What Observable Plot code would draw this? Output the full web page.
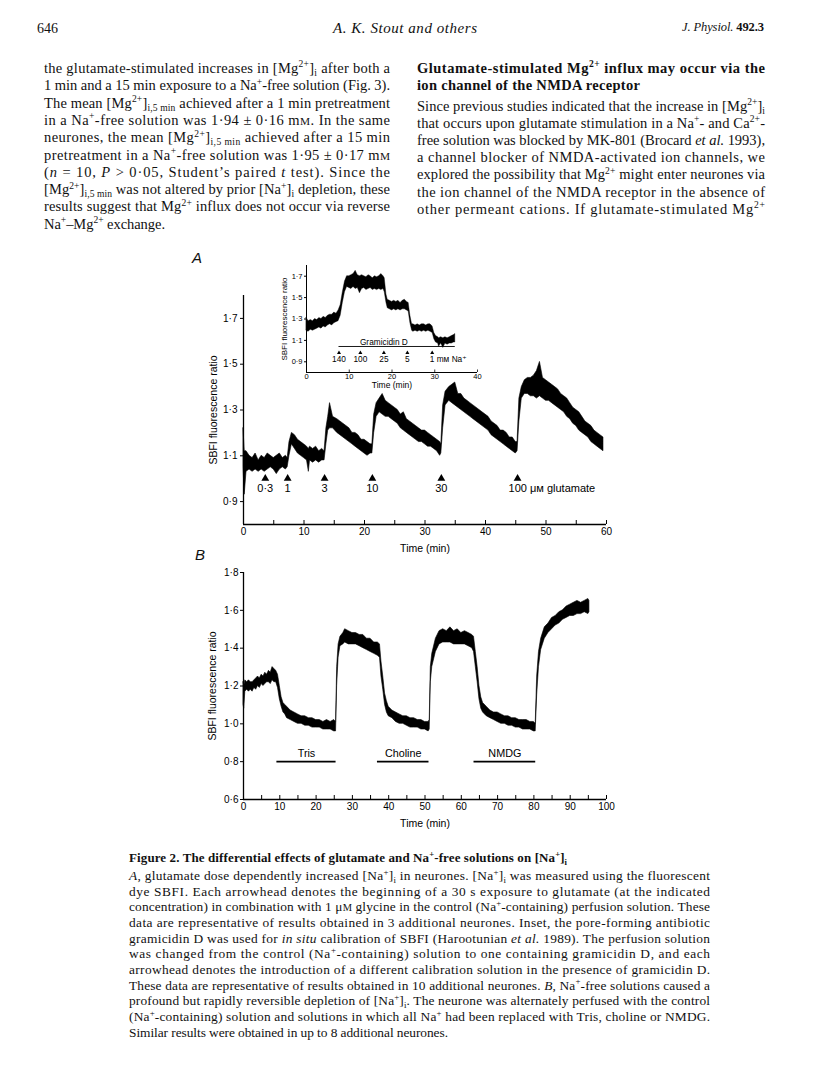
<!DOCTYPE html>
<html>
<head>
<meta charset="utf-8">
<script src="https://cdn.jsdelivr.net/npm/d3@7"></script>
<script src="https://cdn.jsdelivr.net/npm/@observablehq/plot@0.6"></script>
<style>
html,body{margin:0;padding:0;background:#fff;}
#page{position:relative;width:816px;height:1071px;overflow:hidden;background:#fff;}
#page > svg{position:absolute;}
</style>
</head>
<body>
<div id="page"></div>
<script>
// ---------------- DATA ----------------
// Panel A: glutamate dose response (time min, lower envelope, upper envelope)
const traceA = [
 [0,1.05,1.22],[0.2,0.93,1.12],[0.5,1.03,1.12],[1,1.04,1.10],[1.5,1.03,1.09],[2,1.04,1.11],[2.5,1.03,1.08],
 [3,1.04,1.10],[3.5,1.03,1.09],[4,1.04,1.11],[4.5,1.05,1.10],[5,1.04,1.09],[5.5,1.02,1.10],[6,1.04,1.11],
 [6.5,1.05,1.09],[7,1.04,1.10],[7.3,1.05,1.09],[7.6,1.10,1.16],[8,1.15,1.20],[8.5,1.13,1.19],[9,1.11,1.17],
 [9.5,1.10,1.16],[10,1.09,1.15],[10.5,1.08,1.14],[10.8,1.03,1.13],[11,1.08,1.14],[11.5,1.07,1.13],[12,1.08,1.14],
 [12.5,1.07,1.12],[13,1.08,1.13],[13.4,1.08,1.12],[13.7,1.15,1.22],[14,1.21,1.27],[14.3,1.22,1.33],[14.8,1.22,1.27],
 [15.5,1.20,1.26],[16,1.19,1.25],[16.5,1.18,1.24],[17,1.17,1.23],[17.5,1.16,1.22],[18,1.15,1.20],[18.5,1.14,1.20],
 [19,1.13,1.19],[19.5,1.12,1.17],[20,1.11,1.17],[20.5,1.10,1.16],[21,1.11,1.15],[21.3,1.11,1.15],[21.6,1.20,1.28],
 [22,1.27,1.33],[22.5,1.29,1.35],[23,1.28,1.37],[23.5,1.27,1.34],[24,1.27,1.33],[24.5,1.26,1.32],[25,1.25,1.31],
 [25.5,1.24,1.30],[26,1.22,1.28],[26.5,1.21,1.29],[27,1.20,1.26],[27.5,1.19,1.25],[28,1.18,1.24],[28.5,1.17,1.23],
 [29,1.16,1.22],[29.5,1.16,1.21],[30,1.15,1.21],[30.5,1.14,1.20],[31,1.14,1.19],[31.5,1.13,1.18],[32,1.12,1.17],
 [32.5,1.10,1.16],[32.7,1.11,1.15],[33,1.22,1.32],[33.4,1.32,1.38],[34,1.34,1.40],[34.5,1.33,1.41],[35,1.32,1.42],
 [35.5,1.31,1.37],[36,1.30,1.37],[36.5,1.29,1.35],[37,1.28,1.34],[37.5,1.27,1.33],[38,1.26,1.32],[38.5,1.25,1.31],
 [39,1.24,1.30],[39.5,1.23,1.29],[40,1.22,1.28],[40.5,1.21,1.27],[41,1.19,1.25],[41.5,1.18,1.24],[42,1.17,1.23],
 [42.5,1.16,1.21],[43,1.15,1.21],[43.5,1.14,1.20],[44,1.13,1.18],[44.5,1.12,1.18],[45,1.11,1.16],[45.3,1.12,1.16],
 [45.6,1.25,1.35],[46,1.35,1.40],[46.5,1.37,1.43],[47,1.37,1.44],[47.5,1.36,1.44],[48,1.36,1.45],[48.5,1.35,1.47],
 [49,1.36,1.51],[49.5,1.35,1.44],[50,1.34,1.43],[50.5,1.34,1.42],[51,1.33,1.41],[51.5,1.32,1.40],[52,1.31,1.39],
 [52.5,1.30,1.37],[53,1.29,1.36],[53.5,1.27,1.35],[54,1.26,1.33],[54.5,1.24,1.31],[55,1.23,1.30],[55.5,1.21,1.29],
 [56,1.20,1.27],[56.5,1.19,1.25],[57,1.18,1.24],[57.5,1.16,1.23],[58,1.15,1.21],[58.5,1.14,1.20],[59,1.13,1.19],
 [59.5,1.12,1.18]
];
const doseTimes = [3.6, 7.3, 13.4, 21.3, 32.7, 45.3];
const doseLabels = ["0\u00b73", "1", "3", "10", "30", "100 \u03bc\u1d0d glutamate"];
const xTicksA = [0, 10, 20, 30, 40, 50, 60];
const minorA = [5, 10, 15, 20, 25, 30, 35, 40, 45, 50, 55, 60];
const yTicksA = [0.9, 1.1, 1.3, 1.5, 1.7];

// Inset: gramicidin D calibration
const traceInset = [
 [0,1.19,1.31],[0.5,1.18,1.28],[1,1.20,1.29],[1.5,1.19,1.28],[2,1.20,1.30],[2.5,1.21,1.29],[3,1.22,1.31],
 [3.5,1.21,1.30],[4,1.23,1.32],[4.5,1.22,1.31],[5,1.24,1.33],[5.5,1.25,1.34],[6,1.24,1.34],[6.5,1.26,1.36],
 [7,1.27,1.35],[7.5,1.28,1.38],[8,1.33,1.43],[8.5,1.45,1.55],[9,1.55,1.65],[9.5,1.60,1.70],[10,1.59,1.70],
 [10.5,1.58,1.71],[11,1.60,1.72],[11.5,1.58,1.75],[12,1.59,1.71],[12.5,1.54,1.70],[13,1.58,1.71],[13.5,1.59,1.70],
 [14,1.57,1.69],[14.5,1.58,1.71],[15,1.59,1.70],[15.5,1.57,1.68],[16,1.58,1.70],[16.5,1.57,1.69],[17,1.58,1.70],
 [17.5,1.57,1.72],[18,1.58,1.70],[18.3,1.55,1.68],[18.7,1.45,1.53],[19,1.40,1.48],[19.5,1.39,1.47],[20,1.38,1.46],
 [20.5,1.39,1.47],[21,1.38,1.46],[21.5,1.39,1.47],[22,1.38,1.45],[22.5,1.39,1.47],[23,1.39,1.48],[23.5,1.38,1.46],
 [23.9,1.37,1.45],[24.3,1.26,1.33],[24.7,1.19,1.25],[25,1.18,1.25],[25.5,1.19,1.24],[26,1.18,1.25],[26.5,1.19,1.24],
 [27,1.18,1.25],[27.5,1.19,1.25],[28,1.18,1.24],[28.5,1.19,1.25],[29,1.18,1.25],[29.5,1.17,1.23],[29.9,1.11,1.17],
 [30.3,1.08,1.14],[30.8,1.07,1.13],[31,1.04,1.12],[31.5,1.07,1.13],[32,1.03,1.12],[32.5,1.07,1.13],[33,1.06,1.12],
 [33.5,1.07,1.13],[34,1.07,1.14],[34.5,1.08,1.15],[34.8,1.08,1.16]
];
const naTimes = [7.6, 12.6, 18.1, 23.6, 29.4];
const naLabels = ["140", "100", "25", "5", "1 m\u1d0d Na\u207a"];
const gramicidin = {start: 7.6, end: 34.8, label: "Gramicidin D"};
const xTicksInset = [0, 10, 20, 30, 40];
const yTicksInset = [0.9, 1.1, 1.3, 1.5, 1.7];

// Panel B: Na+-free solutions
const traceB = [
 [0,1.10,1.22],[0.2,1.08,1.20],[0.5,1.17,1.23],[1,1.18,1.22],[1.5,1.17,1.23],[2,1.18,1.22],[2.5,1.17,1.22],
 [3,1.19,1.23],[3.5,1.18,1.24],[4,1.20,1.25],[4.5,1.19,1.24],[5,1.21,1.26],[5.5,1.20,1.25],[6,1.21,1.27],
 [6.5,1.22,1.26],[7,1.22,1.28],[7.5,1.21,1.27],[8,1.23,1.30],[8.5,1.22,1.29],[9,1.22,1.28],[9.5,1.19,1.26],
 [10,1.13,1.20],[10.5,1.09,1.14],[11,1.06,1.11],[11.5,1.05,1.10],[12,1.03,1.09],[13,1.02,1.07],[14,1.01,1.06],
 [15,1.00,1.05],[16,1.00,1.04],[17,0.99,1.04],[18,0.99,1.03],[19,0.98,1.03],[20,0.98,1.02],[21,0.98,1.02],
 [22,0.97,1.01],[23,0.97,1.02],[24,0.97,1.01],[25,0.96,1.02],[25.5,0.96,1.01],[25.8,1.20,1.30],[26.2,1.35,1.42],
 [26.7,1.41,1.46],[27.5,1.42,1.48],[28,1.43,1.50],[29,1.42,1.49],[30,1.42,1.48],[31,1.42,1.48],[32,1.41,1.47],
 [33,1.40,1.47],[34,1.39,1.45],[35,1.38,1.45],[36,1.37,1.43],[37,1.36,1.43],[37.6,1.35,1.42],[38,1.25,1.33],
 [38.5,1.18,1.25],[39,1.10,1.16],[39.5,1.06,1.12],[40,1.04,1.09],[41,1.03,1.07],[42,1.01,1.06],[43,1.00,1.05],
 [44,1.00,1.04],[45,0.99,1.04],[46,0.98,1.03],[47,0.98,1.03],[48,0.98,1.02],[49,0.97,1.02],[50,0.97,1.01],
 [51,0.96,1.01],[51.3,0.97,1.02],[51.6,1.22,1.30],[52,1.30,1.37],[53,1.38,1.45],[54,1.42,1.49],[55,1.43,1.50],
 [56,1.43,1.49],[57,1.43,1.51],[58,1.42,1.49],[59,1.42,1.50],[60,1.42,1.48],[61,1.42,1.49],[62,1.41,1.48],
 [63,1.40,1.47],[63.5,1.38,1.46],[64,1.30,1.38],[64.5,1.22,1.30],[65,1.13,1.20],[65.5,1.08,1.14],[66,1.06,1.11],
 [67,1.04,1.09],[68,1.03,1.07],[69,1.02,1.06],[70,1.01,1.06],[71,1.00,1.05],[72,1.00,1.04],[73,0.99,1.04],
 [74,0.99,1.03],[75,0.98,1.03],[76,0.98,1.02],[77,0.97,1.02],[78,0.97,1.02],[79,0.97,1.01],[80,0.96,1.01],
 [80.5,0.96,1.00],[80.9,1.15,1.25],[81.4,1.30,1.38],[82,1.39,1.45],[83,1.45,1.51],[84,1.48,1.53],[85,1.50,1.56],
 [86,1.52,1.57],[87,1.53,1.59],[88,1.55,1.60],[89,1.56,1.62],[90,1.57,1.63],[91,1.57,1.64],[92,1.58,1.65],
 [93,1.58,1.64],[94,1.59,1.65],[95,1.58,1.66],[95.3,1.59,1.65]
];
const solutions = ["Tris", "Choline", "NMDG"];
const solStart = [9.2, 36.9, 63.5];
const solEnd = [25.5, 51.1, 80.5];
const xTicksB = [0, 10, 20, 30, 40, 50, 60, 70, 80, 90, 100];
const minorB = [5, 10, 15, 20, 25, 30, 35, 40, 45, 50, 55, 60, 65, 70, 75, 80, 85, 90, 95, 100];
const yTicksB = [0.6, 0.8, 1.0, 1.2, 1.4, 1.6, 1.8];

// Page text
const headerLeft = "646";
const headerCenter = "A. K. Stout and others";
const leftCol = [
 "the glutamate-stimulated increases in [Mg^2+^]_i_ after both a",
 "1 min and a 15 min exposure to a Na^+^-free solution (Fig. 3).",
 "The mean [Mg^2+^]_i,5 min_ achieved after a 1 min pretreatment",
 "in a Na^+^-free solution was 1\u00b794 \u00b1 0\u00b716 m~M~. In the same",
 "neurones, the mean [Mg^2+^]_i,5 min_ achieved after a 15 min",
 "pretreatment in a Na^+^-free solution was 1\u00b795 \u00b1 0\u00b717 m~M~",
 "(*n* = 10, *P* > 0\u00b705, Student\u2019s paired *t* test). Since the",
 "[Mg^2+^]_i,5 min_ was not altered by prior [Na^+^]_i_ depletion, these",
 "results suggest that Mg^2+^ influx does not occur via reverse",
 "Na^+^\u2013Mg^2+^ exchange."
];
const rightHead = [
 "Glutamate-stimulated Mg^2+^ influx may occur via the",
 "ion channel of the NMDA receptor"
];
const rightCol = [
 "Since previous studies indicated that the increase in [Mg^2+^]_i_",
 "that occurs upon glutamate stimulation in a Na^+^- and Ca^2+^-",
 "free solution was blocked by MK-801 (Brocard *et al.* 1993),",
 "a channel blocker of NMDA-activated ion channels, we",
 "explored the possibility that Mg^2+^ might enter neurones via",
 "the ion channel of the NMDA receptor in the absence of",
 "other permeant cations. If glutamate-stimulated Mg^2+^"
];
const captionTitle = "Figure 2. The differential effects of glutamate and Na^+^-free solutions on [Na^+^]_i_";
const captionLines = [
 "*A*, glutamate dose dependently increased [Na^+^]_i_ in neurones. [Na^+^]_i_ was measured using the fluorescent",
 "dye SBFI. Each arrowhead denotes the beginning of a 30 s exposure to glutamate (at the indicated",
 "concentration) in combination with 1 \u03bc~M~ glycine in the control (Na^+^-containing) perfusion solution. These",
 "data are representative of results obtained in 3 additional neurones. Inset, the pore-forming antibiotic",
 "gramicidin D was used for *in situ* calibration of SBFI (Harootunian *et al.* 1989). The perfusion solution",
 "was changed from the control (Na^+^-containing) solution to one containing gramicidin D, and each",
 "arrowhead denotes the introduction of a different calibration solution in the presence of gramicidin D.",
 "These data are representative of results obtained in 10 additional neurones. *B*, Na^+^-free solutions caused a",
 "profound but rapidly reversible depletion of [Na^+^]_i_. The neurone was alternately perfused with the control",
 "(Na^+^-containing) solution and solutions in which all Na^+^ had been replaced with Tris, choline or NMDG.",
 "Similar results were obtained in up to 8 additional neurones."
];

// ---------------- BUILD ----------------
const page = document.getElementById("page");
const SERIF = "'Liberation Serif', 'DejaVu Serif', serif";
const SANS = "'Liberation Sans', Arial, 'DejaVu Sans', sans-serif";
const fmt = d => d.toFixed(1).replace(".", "\u00b7");

const txt = d3.select(page).append("svg")
  .attr("width", 816).attr("height", 1071)
  .style("left", "0px").style("top", "0px");

function addLine(str, x, y, o) {
  const sz = o.size;
  const t = txt.append("text").attr("x", x).attr("y", y)
    .attr("font-family", o.family || SERIF).attr("font-size", sz).attr("fill", "#111");
  if (o.weight) t.attr("font-weight", o.weight);
  if (o.italic) t.attr("font-style", "italic");
  if (o.anchor) t.attr("text-anchor", o.anchor);
  if (o.len) t.attr("textLength", o.len).attr("lengthAdjust", "spacing");
  const parts = str.split(/(\^[^^]*\^|_[^_]*_|\*[^*]*\*|~[^~]*~)/).filter(s => s.length);
  let shift = 0;
  for (const p of parts) {
    let kind = null, s = p;
    if (p.length > 1 && p[0] === "^" && p.endsWith("^")) { kind = "sup"; s = p.slice(1, -1); }
    else if (p.length > 1 && p[0] === "_" && p.endsWith("_")) { kind = "sub"; s = p.slice(1, -1); }
    else if (p.length > 1 && p[0] === "*" && p.endsWith("*")) { kind = "it"; s = p.slice(1, -1); }
    else if (p.length > 1 && p[0] === "~" && p.endsWith("~")) { kind = "sc"; s = p.slice(1, -1); }
    const ts = t.append("tspan").text(s);
    const target = kind === "sup" ? -sz * 0.38 : kind === "sub" ? sz * 0.22 : 0;
    if (target !== shift) { ts.attr("dy", target - shift); shift = target; }
    if (kind === "sup" || kind === "sub") ts.attr("font-size", sz * 0.66);
    if (kind === "it") ts.attr("font-style", "italic");
    if (kind === "sc") ts.attr("font-size", sz * 0.78);
  }
  return t;
}

// header
addLine(headerLeft, 37, 33, {size: 14});
addLine(headerCenter, 333, 33, {size: 15, italic: true, len: 144});
{
  const t = txt.append("text").attr("x", 682).attr("y", 31).attr("font-family", SERIF)
    .attr("font-size", 12.5).attr("fill", "#111").attr("textLength", 82).attr("lengthAdjust", "spacing");
  t.append("tspan").attr("font-style", "italic").text("J. Physiol. ");
  t.append("tspan").attr("font-weight", "bold").text("492.3");
}
// left column
leftCol.forEach((l, i) => addLine(l, 44, 73 + i * 17.3, {size: 14.5, len: i === leftCol.length - 1 ? 121 : 346}));
// right column
rightHead.forEach((l, i) => addLine(l, 417, 73 + i * 17.3, {size: 14.5, weight: "bold", len: i === 0 ? 348 : 223}));
rightCol.forEach((l, i) => addLine(l, 417, 110.5 + i * 17.22, {size: 14.5, len: 348}));
// caption
addLine(captionTitle, 129, 862, {size: 13, weight: "bold", len: 438});
captionLines.forEach((l, i) => addLine(l, 129, 880 + i * 15.65, {size: 13.4, len: i === captionLines.length - 1 ? 319 : 581}));
// panel letters
addLine("A", 192, 263, {size: 15, family: SANS, italic: true});
addLine("B", 195, 560, {size: 15, family: SANS, italic: true});

function place(el, left, top) {
  el.style.position = "absolute";
  el.style.left = left + "px";
  el.style.top = top + "px";
  page.appendChild(el);
}
const baseStyle = {background: "transparent", fontFamily: SANS, fontSize: "10px", color: "black", overflow: "visible"};
const toObj = a => a.map(([t, lo, hi]) => ({t, lo, hi}));

// ---- Panel A ----
const dataA = toObj(traceA);
const doses = doseTimes.map((t, i) => ({t, label: doseLabels[i]}));
const frameHA = 229;
const plotA = Plot.plot({
  width: 443, height: 279,
  marginLeft: 60, marginRight: 20, marginTop: 10, marginBottom: 40,
  style: baseStyle,
  x: {domain: [0, 60], ticks: xTicksA, tickSize: 0, tickPadding: 3, tickFormat: d => String(d), label: null},
  y: {domain: [0.8, 1.8], ticks: yTicksA, tickSize: 3, tickPadding: 3, tickFormat: fmt, label: null},
  marks: [
    Plot.ruleX(minorA, {x: d => d, insetTop: frameHA - 4, strokeWidth: 1}),
    Plot.ruleX([0], {strokeWidth: 1.3}),
    Plot.ruleY([0.8], {strokeWidth: 1.3}),
    Plot.areaY(dataA, {x: "t", y1: "lo", y2: "hi", fill: "black", stroke: "black", strokeWidth: 0.6}),
    Plot.dot(doses, {x: "t", y: 1.001, symbol: "triangle", r: 2.9, fill: "black"}),
    Plot.text(doses.slice(0, 5), {x: "t", y: 0.957, text: "label", fontSize: 11}),
    Plot.text(doses.slice(5), {x: "t", y: 0.957, text: "label", fontSize: 11, textAnchor: "start", dx: -9}),
    Plot.text(["Time (min)"], {frameAnchor: "bottom", lineAnchor: "middle", dy: 24, fontSize: 10.5}),
    Plot.text(["SBFI fluorescence ratio"], {frameAnchor: "left", textAnchor: "middle", lineAnchor: "middle", rotate: -90, dx: -30, fontSize: 10.5})
  ]
});
place(plotA, 183, 285);

// ---- Inset ----
const dataI = toObj(traceInset);
const naSteps = naTimes.map((t, i) => ({t, label: naLabels[i]}));
const plotI = Plot.plot({
  width: 211, height: 137,
  marginLeft: 30, marginRight: 10, marginTop: 5, marginBottom: 25,
  style: {...baseStyle, fontSize: "7.5px"},
  x: {domain: [0, 40], ticks: xTicksInset, tickSize: 0, tickPadding: 1.5, tickFormat: d => String(d), label: null},
  y: {domain: [0.8, 1.8], ticks: yTicksInset, tickSize: 2, tickPadding: 2, tickFormat: fmt, label: null},
  marks: [
    Plot.ruleX(xTicksInset.slice(1), {x: d => d, insetTop: 107 - 2.5, strokeWidth: 0.8}),
    Plot.ruleX([0], {strokeWidth: 1}),
    Plot.ruleY([0.8], {strokeWidth: 1}),
    Plot.areaY(dataI, {x: "t", y1: "lo", y2: "hi", fill: "black", stroke: "black", strokeWidth: 0.4}),
    Plot.ruleY([gramicidin], {y: 1.043, x1: "start", x2: "end", strokeWidth: 0.9}),
    Plot.text([gramicidin], {x: d => (d.start + d.end) / 2 - 3.1, y: 1.043, dy: -4.5, text: "label", fontSize: 8.3}),
    Plot.dot(naSteps, {x: "t", y: 0.984, symbol: "triangle", r: 1.5, fill: "black"}),
    Plot.text(naSteps.slice(0, 4), {x: "t", y: 0.921, text: "label", fontSize: 8.3}),
    Plot.text(naSteps.slice(4), {x: "t", y: 0.921, text: "label", fontSize: 8.3, textAnchor: "start", dx: -2.4}),
    Plot.text(["Time (min)"], {frameAnchor: "bottom", lineAnchor: "middle", dy: 13, fontSize: 8.5}),
    Plot.text(["SBFI fluorescence ratio"], {frameAnchor: "left", textAnchor: "middle", lineAnchor: "middle", rotate: -90, dx: -22, fontSize: 8})
  ]
});
place(plotI, 276, 260);

// ---- Panel B ----
const dataB = toObj(traceB);
const sols = solutions.map((name, i) => ({name, start: solStart[i], end: solEnd[i]}));
const frameHB = 227;
const plotB = Plot.plot({
  width: 443, height: 277,
  marginLeft: 60, marginRight: 20, marginTop: 10, marginBottom: 40,
  style: baseStyle,
  x: {domain: [0, 100], ticks: xTicksB, tickSize: 0, tickPadding: 3, tickFormat: d => String(d), label: null},
  y: {domain: [0.6, 1.8], ticks: yTicksB, tickSize: 3, tickPadding: 2, tickFormat: fmt, label: null},
  marks: [
    Plot.ruleX(minorB, {x: d => d, insetTop: frameHB - 4, strokeWidth: 1}),
    Plot.ruleX([0], {strokeWidth: 1.3}),
    Plot.ruleY([0.6], {strokeWidth: 1.3}),
    Plot.areaY(dataB, {x: "t", y1: "lo", y2: "hi", fill: "black", stroke: "black", strokeWidth: 0.6}),
    Plot.ruleY(sols, {y: 0.8, x1: "start", x2: "end", strokeWidth: 1.6}),
    Plot.text(sols, {x: d => (d.start + d.end) / 2, y: 0.8, dy: -8, text: "name", fontSize: 10.8}),
    Plot.text(["Time (min)"], {frameAnchor: "bottom", lineAnchor: "middle", dy: 24, fontSize: 10.5}),
    Plot.text(["SBFI fluorescence ratio"], {frameAnchor: "left", textAnchor: "middle", lineAnchor: "middle", rotate: -90, dx: -31, fontSize: 10.5})
  ]
});
place(plotB, 183, 562);
</script>
</body>
</html>
